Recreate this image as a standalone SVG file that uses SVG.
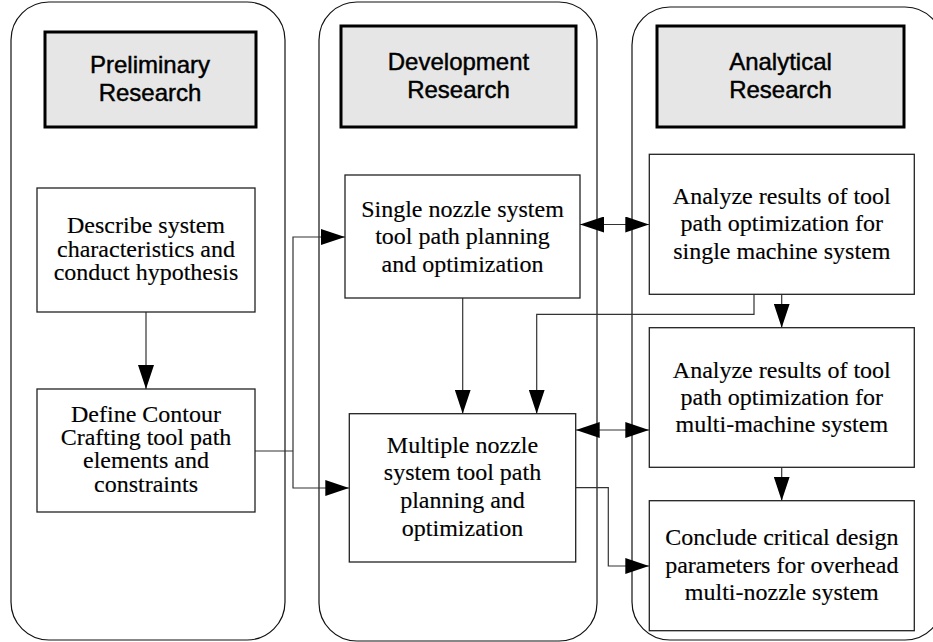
<svg xmlns="http://www.w3.org/2000/svg" width="933" height="642" viewBox="0 0 933 642">
<defs>
<style>
.lane{fill:#fff;stroke:#111;stroke-width:1.2}
.hdr{fill:#e6e6e6;stroke:#000;stroke-width:3}
.box{fill:#fff;stroke:#222;stroke-width:1.3}
.ht{font-family:"Liberation Sans",Arial,sans-serif;font-size:24px;fill:#000;stroke:#000;stroke-width:0.45;text-anchor:middle}
.bt{font-family:"Liberation Serif","Times New Roman",serif;font-size:24px;fill:#000;stroke:#000;stroke-width:0.15;text-anchor:middle}
.cn{fill:none;stroke:#333;stroke-width:1.2}
</style>
<marker id="ah" viewBox="0 0 24 16" refX="24" refY="8" markerWidth="24" markerHeight="16" markerUnits="userSpaceOnUse" orient="auto-start-reverse">
<path d="M0,0 L24,8 L0,16 z" fill="#000"/>
</marker>
</defs>
<rect width="933" height="642" fill="#fff"/>
<g id="lanes">
<rect class="lane" x="11" y="2" width="274" height="638" rx="38" ry="38"/>
<rect class="lane" x="319" y="2" width="278" height="639" rx="38" ry="38"/>
<rect class="lane" x="632" y="7" width="311" height="633" rx="38" ry="38"/>
</g>
<g id="connectors">
<path class="cn" d="M146,312 V389" marker-end="url(#ah)"/>
<path class="cn" d="M255,451 H293"/>
<path class="cn" d="M293,451 V237 H345" marker-end="url(#ah)"/>
<path class="cn" d="M293,451 V488 H349.3" marker-end="url(#ah)"/>
<path class="cn" d="M462.7,298 V413.7" marker-end="url(#ah)"/>
<path class="cn" d="M754,294.3 V314.3 H536.7 V413.7" marker-end="url(#ah)"/>
<path class="cn" d="M580,224.5 H649.3" marker-start="url(#ah)" marker-end="url(#ah)"/>
<path class="cn" d="M575.7,430 H649.3" marker-start="url(#ah)" marker-end="url(#ah)"/>
<path class="cn" d="M781.7,294.3 V327.7" marker-end="url(#ah)"/>
<path class="cn" d="M781.7,467.3 V500.7" marker-end="url(#ah)"/>
<path class="cn" d="M575.7,487.7 H608.3 V566 H649.3" marker-end="url(#ah)"/>
</g>
<g id="hdr-preliminary">
<rect class="hdr" x="45" y="32" width="211" height="95"/>
<text class="ht" x="150" y="73">Preliminary</text>
<text class="ht" x="150" y="101">Research</text>
</g>
<g id="hdr-development">
<rect class="hdr" x="341" y="26" width="235" height="101"/>
<text class="ht" x="458.5" y="70">Development</text>
<text class="ht" x="458.5" y="98">Research</text>
</g>
<g id="hdr-analytical">
<rect class="hdr" x="657" y="26" width="247" height="101"/>
<text class="ht" x="780.5" y="70">Analytical</text>
<text class="ht" x="780.5" y="97.5">Research</text>
</g>
<g id="node-describe">
<rect class="box" x="37" y="188" width="218" height="124"/>
<text class="bt" x="146" y="233.3">Describe system</text>
<text class="bt" x="146" y="256.7">characteristics and</text>
<text class="bt" x="146" y="280">conduct hypothesis</text>
</g>
<g id="node-define">
<rect class="box" x="37" y="389" width="218" height="123"/>
<text class="bt" x="146" y="421.7">Define Contour</text>
<text class="bt" x="146" y="445">Crafting tool path</text>
<text class="bt" x="146" y="468.3">elements and</text>
<text class="bt" x="146" y="491.7">constraints</text>
</g>
<g id="node-single">
<rect class="box" x="345" y="175" width="235" height="123"/>
<text class="bt" x="462.5" y="216.7">Single nozzle system</text>
<text class="bt" x="462.5" y="244">tool path planning</text>
<text class="bt" x="462.5" y="271.5">and optimization</text>
</g>
<g id="node-multiple">
<rect class="box" x="349.3" y="413.7" width="226.4" height="148.3"/>
<text class="bt" x="462.5" y="452.7">Multiple nozzle</text>
<text class="bt" x="462.5" y="480">system tool path</text>
<text class="bt" x="462.5" y="508.3">planning and</text>
<text class="bt" x="462.5" y="535.7">optimization</text>
</g>
<g id="node-analyze-single">
<rect class="box" x="649.3" y="154.3" width="265" height="140"/>
<text class="bt" x="781.8" y="203.5">Analyze results of tool</text>
<text class="bt" x="781.8" y="231">path optimization for</text>
<text class="bt" x="781.8" y="258.5">single machine system</text>
</g>
<g id="node-analyze-multi">
<rect class="box" x="649.3" y="327.7" width="265" height="139.6"/>
<text class="bt" x="781.8" y="377.5">Analyze results of tool</text>
<text class="bt" x="781.8" y="405">path optimization for</text>
<text class="bt" x="781.8" y="431.7">multi-machine system</text>
</g>
<g id="node-conclude">
<rect class="box" x="649.3" y="500.7" width="265" height="130"/>
<text class="bt" x="781.8" y="545">Conclude critical design</text>
<text class="bt" x="781.8" y="573.3">parameters for overhead</text>
<text class="bt" x="781.8" y="600">multi-nozzle system</text>
</g>
</svg>
